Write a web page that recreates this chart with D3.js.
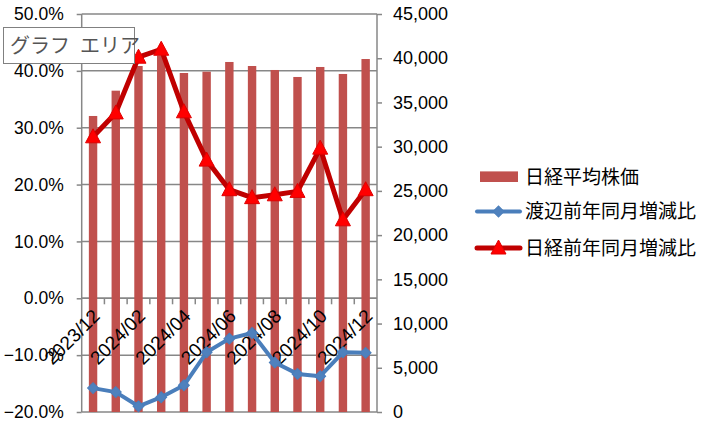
<!DOCTYPE html>
<html><head><meta charset="utf-8">
<script src="https://cdn.jsdelivr.net/npm/d3@7"></script>
<style>
html,body{margin:0;padding:0;background:#fff;}
svg{display:block;}
</style></head>
<body>
<svg id="c" width="708" height="425"></svg>
<script>
const categories = ["2023/12","2024/01","2024/02","2024/03","2024/04","2024/05","2024/06","2024/07","2024/08","2024/09","2024/10","2024/11","2024/12"];
const nikkeiAvg = [33470,36330,39120,40300,38330,38480,39575,39120,38670,37880,39010,38220,39910];
const watanabeYoY = [-0.158,-0.165,-0.190,-0.174,-0.153,-0.095,-0.071,-0.061,-0.113,-0.133,-0.137,-0.095,-0.096];
const nikkeiYoY = [0.284,0.326,0.424,0.438,0.328,0.243,0.191,0.177,0.182,0.188,0.264,0.138,0.191];
const leftTicks = [-0.2,-0.1,0,0.1,0.2,0.3,0.4,0.5];
const rightTicks = [0,5000,10000,15000,20000,25000,30000,35000,40000,45000];
const seriesNames = ["日経平均株価","渡辺前年同月増減比","日経前年同月増減比"];

const svg = d3.select("#c");
const L = 81.7, R = 377, T = 14, B = 412;
const numFont = "'Liberation Sans', Arial, sans-serif";
const cjkFont = "'Noto Sans CJK JP', sans-serif";
const grid = "#878787";

const x = d3.scaleBand().domain(categories).range([L, R]).paddingInner(0.63).paddingOuter(0.315);
const xb = d3.scaleBand().domain(categories).range([L, R]);
const yL = d3.scaleLinear().domain([-0.2, 0.5]).range([B, T]);
const yR = d3.scaleLinear().domain([0, 45000]).range([B, T]);

// gridlines
svg.append("g").selectAll("line").data(leftTicks).join("line")
  .attr("x1", L).attr("x2", R).attr("y1", d => yL(d)).attr("y2", d => yL(d))
  .attr("stroke", grid).attr("stroke-width", 1.5);

// left axis
const ga = svg.append("g").attr("transform", `translate(${L},0)`)
  .call(d3.axisLeft(yL).tickValues(leftTicks).tickSize(5).tickPadding(13).tickFormat(d3.format(".1%")));
ga.select(".domain").remove();
ga.selectAll(".tick line").attr("stroke", grid).attr("stroke-width", 1.5);
ga.selectAll("text").attr("font-family", numFont).attr("font-size", 17.5).attr("fill", "#000");
svg.append("line").attr("x1", L).attr("x2", L).attr("y1", T).attr("y2", B).attr("stroke", grid).attr("stroke-width", 1.5);

// right axis
const gr = svg.append("g").attr("transform", `translate(${R},0)`)
  .call(d3.axisRight(yR).tickValues(rightTicks).tickSize(5).tickPadding(11).tickFormat(d3.format(",")));
gr.select(".domain").remove();
gr.selectAll(".tick line").attr("stroke", grid).attr("stroke-width", 1.5);
gr.selectAll("text").attr("font-family", numFont).attr("font-size", 18).attr("fill", "#000");
svg.append("line").attr("x1", R).attr("x2", R).attr("y1", T).attr("y2", B).attr("stroke", grid).attr("stroke-width", 1.5);

// x axis at 0%
const y0 = yL(0);
svg.append("line").attr("x1", L).attr("x2", R).attr("y1", y0).attr("y2", y0).attr("stroke", grid).attr("stroke-width", 1.5);
svg.append("g").selectAll("line").data(categories.slice(1)).join("line")
  .attr("x1", d => xb(d)).attr("x2", d => xb(d)).attr("y1", y0).attr("y2", y0 + 6)
  .attr("stroke", grid).attr("stroke-width", 1.5);

// bars
svg.append("g").selectAll("rect").data(categories).join("rect")
  .attr("x", d => x(d)).attr("width", x.bandwidth())
  .attr("y", (d, i) => yR(nikkeiAvg[i])).attr("height", (d, i) => B - yR(nikkeiAvg[i]))
  .attr("fill", "#C0504D");

// x labels
svg.append("g").selectAll("text").data(categories.filter((d, i) => i % 2 === 0)).join("text")
  .attr("transform", d => `translate(${xb(d) + xb.bandwidth() / 2 + 8},${y0 + 19}) rotate(-45)`)
  .attr("text-anchor", "end")
  .attr("font-family", numFont).attr("font-size", 19).attr("fill", "#000")
  .text(d => d);

const cx = d => xb(d) + xb.bandwidth() / 2;

// blue line
svg.append("path").datum(categories)
  .attr("d", d3.line().x(d => cx(d)).y((d, i) => yL(watanabeYoY[i])))
  .attr("fill", "none").attr("stroke", "#4A7EBB").attr("stroke-width", 4).attr("stroke-linejoin", "round");
const diamond = d3.symbol().type(d3.symbolSquare).size(60)();
svg.append("g").selectAll("path").data(categories).join("path")
  .attr("d", diamond)
  .attr("transform", (d, i) => `translate(${cx(d)},${yL(watanabeYoY[i])}) rotate(45)`)
  .attr("fill", "#4F81BD").attr("stroke", "#4A7EBB").attr("stroke-width", 1);

// red line
svg.append("path").datum(categories)
  .attr("d", d3.line().x(d => cx(d)).y((d, i) => yL(nikkeiYoY[i])))
  .attr("fill", "none").attr("stroke", "#C00000").attr("stroke-width", 5).attr("stroke-linejoin", "round");
const tri = "M0,-8L7.5,6L-7.5,6Z";
svg.append("g").selectAll("path").data(categories).join("path")
  .attr("d", tri)
  .attr("transform", (d, i) => `translate(${cx(d)},${yL(nikkeiYoY[i])})`)
  .attr("fill", "#FF0000").attr("stroke", "#E00000").attr("stroke-width", 1);

// legend
const lg = svg.append("g");
const lx = 525, rows = [176.7, 211.5, 248];
lg.append("rect").attr("x", 480).attr("y", rows[0] - 5.3).attr("width", 38).attr("height", 10.6).attr("fill", "#C0504D");
lg.append("line").attr("x1", 477).attr("x2", 520).attr("y1", rows[1]).attr("y2", rows[1]).attr("stroke", "#4A7EBB").attr("stroke-width", 4).attr("stroke-linecap", "round");
lg.append("path").attr("d", diamond).attr("transform", `translate(498.5,${rows[1]}) rotate(45)`).attr("fill", "#4F81BD").attr("stroke", "#4A7EBB");
lg.append("line").attr("x1", 477).attr("x2", 520).attr("y1", rows[2]).attr("y2", rows[2]).attr("stroke", "#C00000").attr("stroke-width", 5).attr("stroke-linecap", "round");
lg.append("path").attr("d", tri).attr("transform", `translate(498.5,${rows[2]})`).attr("fill", "#FF0000").attr("stroke", "#E00000");
lg.selectAll("text").data(seriesNames).join("text")
  .attr("x", lx).attr("y", (d, i) => rows[i]).attr("dy", "0.36em")
  .attr("font-family", cjkFont).attr("font-size", 19).attr("fill", "#000")
  .text(d => d);

// tooltip box
svg.append("rect").attr("x", 3.5).attr("y", 27.5).attr("width", 131).attr("height", 36)
  .attr("fill", "#fff").attr("stroke", "#808080").attr("stroke-width", 1);
svg.append("text").attr("x", 10).attr("y", 46).attr("dy", "0.36em")
  .attr("font-family", cjkFont).attr("font-size", 20).attr("fill", "#555")
  .text("グラフ\u2002エリア");
</script>
</body></html>
